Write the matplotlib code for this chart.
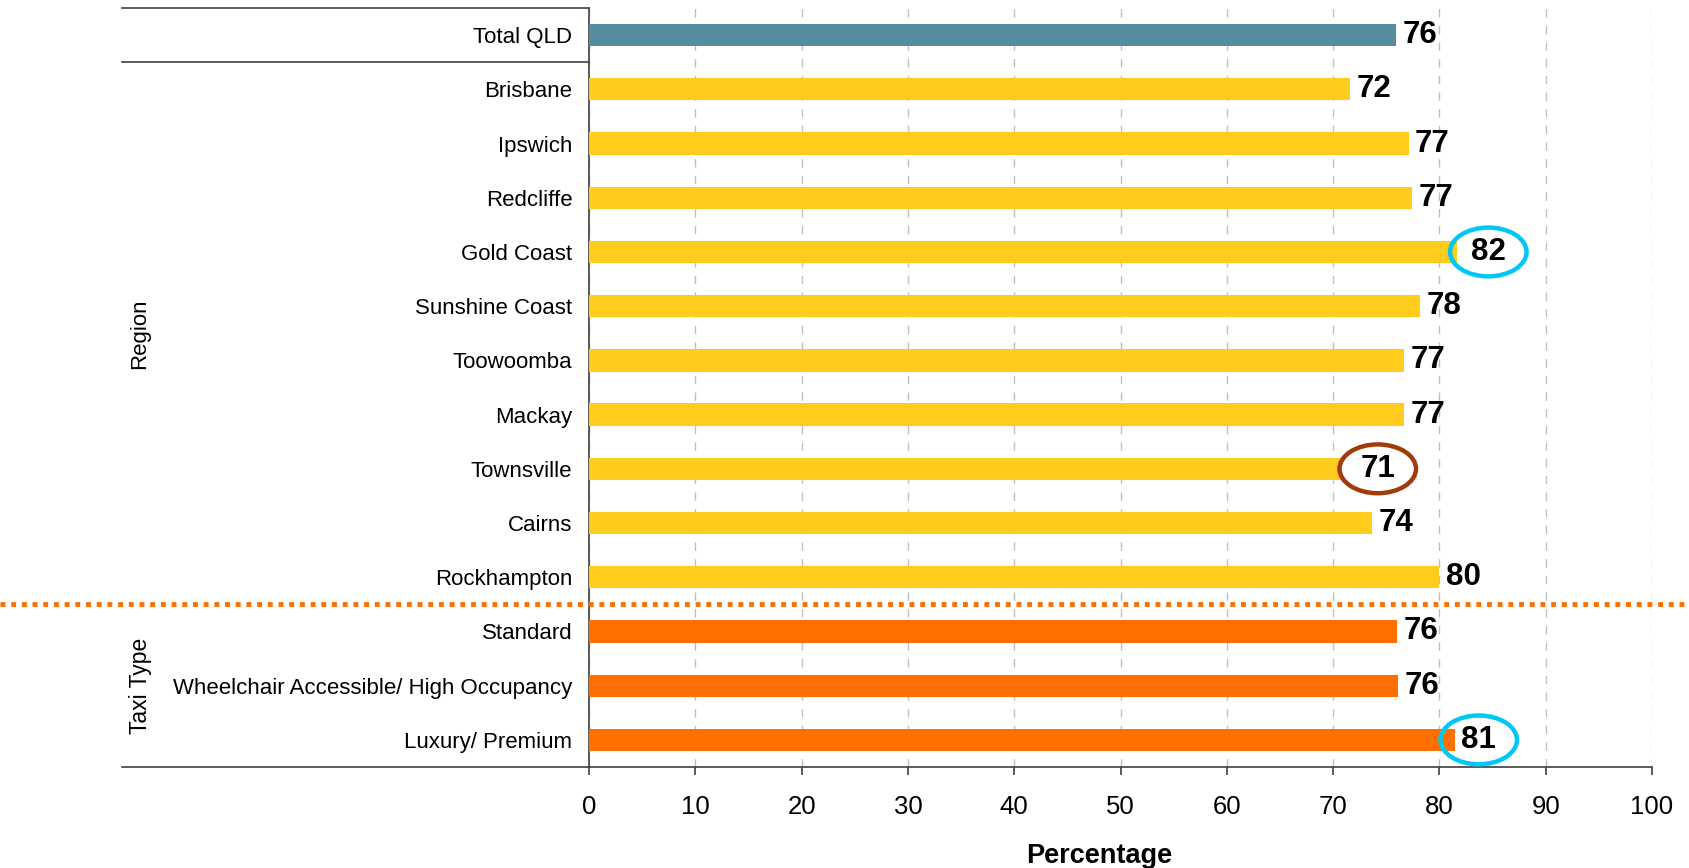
import matplotlib
matplotlib.use("Agg")
import matplotlib.pyplot as plt
from matplotlib.patches import Ellipse
from matplotlib.lines import Line2D
import matplotlib.transforms as mtransforms

plt.rcParams['font.family'] = ['Liberation Sans', 'DejaVu Sans']

categories = ["Total QLD", "Brisbane", "Ipswich", "Redcliffe", "Gold Coast",
              "Sunshine Coast", "Toowoomba", "Mackay", "Townsville", "Cairns",
              "Rockhampton", "Standard", "Wheelchair Accessible/ High Occupancy",
              "Luxury/ Premium"]
values = [75.9, 71.6, 77.1, 77.4, 81.7, 78.2, 76.7, 76.7, 70.8, 73.7, 80.0,
          76.0, 76.1, 81.5]
labels = ["76", "72", "77", "77", "82", "78", "77", "77", "71", "74", "80",
          "76", "76", "81"]
groups = ["total"] + ["region"] * 10 + ["taxi"] * 3
highlight_high = ["Gold Coast", "Luxury/ Premium"]
highlight_low = ["Townsville"]
xticks = list(range(0, 101, 10))

# style: horizontal offset of circled labels from bar end (in axis units)
circle_offset = {"Gold Coast": 2.9, "Townsville": 3.4, "Luxury/ Premium": 2.2}
group_colors = {"total": "#568BA0", "region": "#FFCC1E", "taxi": "#FF6F00"}

fig = plt.figure(figsize=(16.9, 8.68), dpi=100)
ax = fig.add_axes([589 / 1690, 1 - 767 / 868, (1652 - 589) / 1690, (767 - 8) / 868])

ypos = list(range(len(categories)))
colors = [group_colors[g] for g in groups]
ax.barh(ypos, values, height=0.41, color=colors, zorder=3)

ax.set_xlim(0, 100)
ax.set_ylim(len(categories) - 0.5, -0.5)
ax.set_yticks(ypos)
ax.set_yticklabels(categories, fontsize=16)
ax.tick_params(axis='y', length=0, pad=12)
ax.set_xticks(xticks)
ax.set_xticklabels([str(t) for t in xticks], fontsize=18.5)
ax.tick_params(axis='x', direction='out', length=6, width=1.2, color='#404040', pad=14)

ax.xaxis.grid(True, linestyle=(0, (6, 6)), color='#BFBFBF', linewidth=1.0, zorder=0)
ax.set_axisbelow(True)
for s in ['top', 'right']:
    ax.spines[s].set_visible(False)
ax.spines['left'].set_color('#404040')
ax.spines['bottom'].set_color('#404040')
ax.spines['left'].set_linewidth(1.2)
ax.spines['bottom'].set_linewidth(1.2)

ax.set_xlabel("Percentage", fontsize=19.5, fontweight='bold')
ax.xaxis.set_label_coords(0.48, -0.10)

# value labels
for y, v, lab, cat in zip(ypos, values, labels, categories):
    if cat in circle_offset:
        cx = v + circle_offset[cat]
        ax.text(cx, y, lab, fontsize=22.5, fontweight='bold', ha='center', va='center', zorder=5)
        ec = '#00C8F5' if cat in highlight_high else '#A33A0A'
        ax.add_patch(Ellipse((cx, y), 7.2, 0.9, facecolor='none', edgecolor=ec,
                             linewidth=3.2, zorder=6, clip_on=False))
    else:
        ax.text(v + 0.6, y, lab, fontsize=22.5, fontweight='bold', ha='left', va='center', zorder=5)

# group structure lines
trans = mtransforms.blended_transform_factory(fig.transFigure, ax.transData)
x_left = 122 / 1690
x_axis = 589 / 1690
for yy in [-0.5, 0.5]:
    fig.add_artist(Line2D([x_left, x_axis], [yy, yy], transform=trans, color='#404040',
                          linewidth=1.2))
fig.add_artist(Line2D([x_left, x_axis], [13.5, 13.5], transform=trans, color='#404040',
                      linewidth=1.2))
fig.add_artist(Line2D([0, 1], [10.5, 10.5], transform=trans, color='#FF6F00',
                      linewidth=3.5, linestyle=(0, (1, 1.2))))

# group labels
fig.text(140 / 1690, 5.5, "Region", transform=trans, rotation=90, fontsize=16,
         ha='center', va='center')
fig.text(140 / 1690, 12.0, "Taxi Type", transform=trans, rotation=90, fontsize=16.5,
         ha='center', va='center')

fig.savefig("out.png", dpi=100)
